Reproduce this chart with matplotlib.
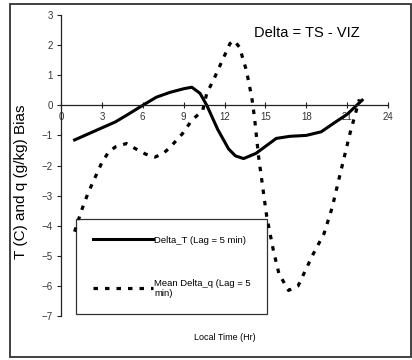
import matplotlib
matplotlib.use('Agg')
import matplotlib.pyplot as plt
from matplotlib.patches import Rectangle

plt.rcParams['font.family'] = ['Liberation Sans', 'DejaVu Sans']

# Delta_T (solid line)
hours_t = [1, 2, 3, 4, 5, 6, 7, 8, 9, 9.6, 10.2, 10.7, 11.5, 12.3, 12.8, 13.4,
           14.3, 15.2, 15.8, 16.8, 18, 19.1, 20, 21, 22.1]
delta_t = [-1.15, -0.95, -0.75, -0.55, -0.28, 0.0, 0.27, 0.43, 0.55, 0.6, 0.4, 0.0,
           -0.8, -1.45, -1.68, -1.77, -1.6, -1.3, -1.1, -1.03, -1.0, -0.88, -0.6,
           -0.3, 0.17]

# Mean Delta_q (dashed line)
hours_q = [1, 1.5, 2, 2.5, 3, 3.5, 4, 4.8, 5.5, 6.2, 6.9, 7.5, 8, 8.9, 9.6, 10.4,
           10.7, 11.2, 11.8, 12.4, 12.7, 13.1, 13.6, 14.0, 14.2, 14.5, 14.8, 15.1,
           15.6, 16.0, 16.7, 17.4, 18.5, 19.3, 19.9, 20.4, 21.2, 21.9]
delta_q = [-4.2, -3.5, -2.9, -2.4, -1.9, -1.55, -1.38, -1.27, -1.45, -1.62, -1.72,
           -1.6, -1.4, -0.95, -0.5, -0.17, 0.4, 0.85, 1.45, 2.05, 2.15, 1.93, 1.17,
           0.27, -0.4, -1.7, -2.7, -3.7, -4.85, -5.6, -6.15, -6.0, -4.95, -4.27,
           -3.4, -2.45, -0.95, 0.2]

xticks = [0, 3, 6, 9, 12, 15, 18, 21, 24]
yticks = [-7, -6, -5, -4, -3, -2, -1, 0, 1, 2, 3]

W, H = 412, 360
fig = plt.figure(figsize=(W / 100, H / 100), dpi=100)
ax = fig.add_axes([61 / W, 1 - 316 / H, (388 - 61) / W, (316 - 15) / H])

ax.plot(hours_t, delta_t, color='black', lw=2.2, solid_joinstyle='round',
        label='Delta_T (Lag = 5 min)')
ax.plot(hours_q, delta_q, color='black', lw=2.3, linestyle=(0, (1.4, 2.2)),
        label='Mean Delta_q (Lag = 5\nmin)')

ax.set_xlim(0, 24)
ax.set_ylim(-7, 3)
ax.set_xticks(xticks)
ax.set_yticks(yticks)
ax.spines['top'].set_visible(False)
ax.spines['right'].set_visible(False)
ax.spines['bottom'].set_position(('data', 0))
for s in ['left', 'bottom']:
    ax.spines[s].set_linewidth(0.9)
    ax.spines[s].set_color('#222222')
ax.tick_params(axis='x', direction='inout', length=4, width=0.8, labelsize=7,
               pad=3, colors='#222222', labelcolor='#333333')
ax.tick_params(axis='y', direction='out', length=3, width=0.8, labelsize=7,
               pad=3, colors='#222222', labelcolor='#333333')

ax.set_ylabel('T (C) and q (g/kg) Bias', fontsize=11)
ax.yaxis.set_label_coords(28 / W, 1 - 182 / H, transform=fig.transFigure)
fig.text(225 / W, 1 - 338 / H, 'Local Time (Hr)', fontsize=6.5, ha='center', va='center')
fig.text(307 / W, 1 - 33 / H, 'Delta = TS - VIZ', fontsize=10.5, ha='center', va='center')

leg = ax.legend(loc='upper left', bbox_to_anchor=(76 / W, 1 - 219 / H),
                bbox_transform=fig.transFigure, fontsize=6.8, frameon=True,
                fancybox=False, handlelength=6.4, handletextpad=0.1,
                labelspacing=3.6, borderpad=1.75, borderaxespad=0)
leg.get_frame().set_edgecolor('black')
leg.get_frame().set_linewidth(0.9)

fig.patches.append(Rectangle((10 / W, 1 - 357 / H), 401 / W, 353 / H,
                             transform=fig.transFigure, fill=False,
                             edgecolor='#333333', lw=1.3))

fig.savefig('out.png', dpi=100)
